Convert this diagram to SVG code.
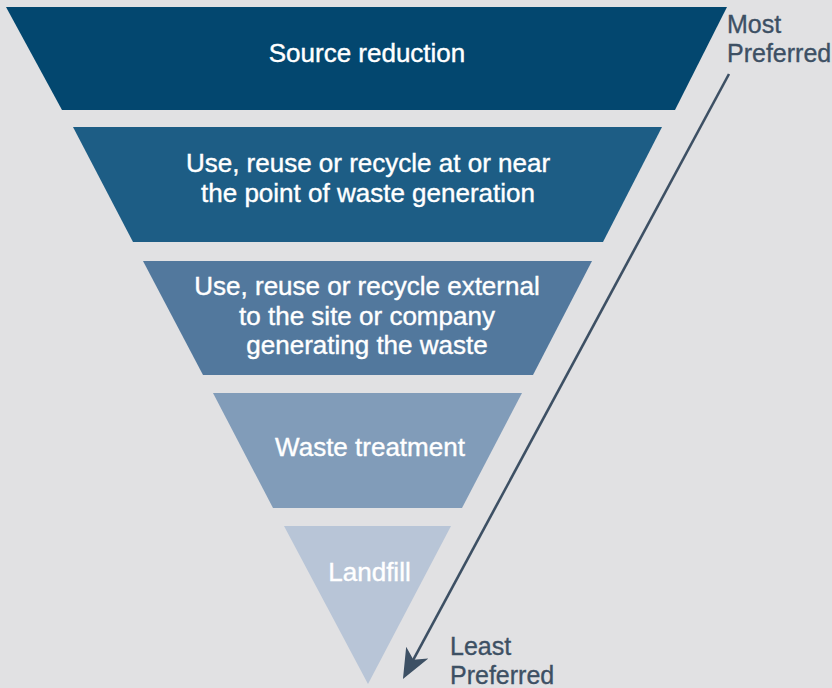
<svg xmlns="http://www.w3.org/2000/svg" width="832" height="688" viewBox="0 0 832 688">
  <style>
    .lbl { font-family: "Liberation Sans", Arial, Helvetica, sans-serif; font-size: 26px; fill: #ffffff; stroke: #ffffff; stroke-width: 0.4; text-anchor: middle; }
    .side { font-family: "Liberation Sans", Arial, Helvetica, sans-serif; font-size: 25px; fill: #3d5064; stroke: #3d5064; stroke-width: 0.35; }
    .arrow { stroke: #3d5064; stroke-width: 2.6; fill: none; }
  </style>
  <defs>
    <marker id="ah" markerUnits="userSpaceOnUse" markerWidth="32" markerHeight="26" refX="20" refY="12.5" orient="auto">
      <path d="M0,0 L30,12.5 L0,25 L8,12.5 Z" fill="#3d5064"/>
    </marker>
  </defs>
  <rect x="0" y="0" width="832" height="688" fill="#e1e1e3"/>

  <g id="source-reduction">
    <polygon points="6,7 727,7 675,110 62,110" fill="#03476f"/>
    <text class="lbl" x="367" y="62">Source reduction</text>
  </g>
  <g id="reuse-near">
    <polygon points="73,127 662,127 603,242 133,242" fill="#1d5d85"/>
    <text class="lbl" x="368" y="172">Use, reuse or recycle at or near</text>
    <text class="lbl" x="368" y="201.5">the point of waste generation</text>
  </g>
  <g id="reuse-external">
    <polygon points="143,261 592,261 533,375 203,375" fill="#52789d"/>
    <text class="lbl" x="367" y="295">Use, reuse or recycle external</text>
    <text class="lbl" x="367" y="324.5">to the site or company</text>
    <text class="lbl" x="367" y="354">generating the waste</text>
  </g>
  <g id="waste-treatment">
    <polygon points="213,393 522,393 462,508 273,508" fill="#819cb9"/>
    <text class="lbl" x="370" y="456">Waste treatment</text>
  </g>
  <g id="landfill">
    <polygon points="284,526 451,526 368,684" fill="#b8c5d7"/>
    <text class="lbl" x="369.5" y="581">Landfill</text>
  </g>

  <g id="most-preferred">
    <text class="side" x="727" y="33">Most</text>
    <text class="side" x="727" y="62">Preferred</text>
  </g>
  <g id="least-preferred">
    <text class="side" x="450" y="655">Least</text>
    <text class="side" x="450" y="684">Preferred</text>
  </g>

  <g id="connectors">
    <line class="arrow" x1="729" y1="74" x2="407.7" y2="670.2" marker-end="url(#ah)"/>
  </g>
</svg>
